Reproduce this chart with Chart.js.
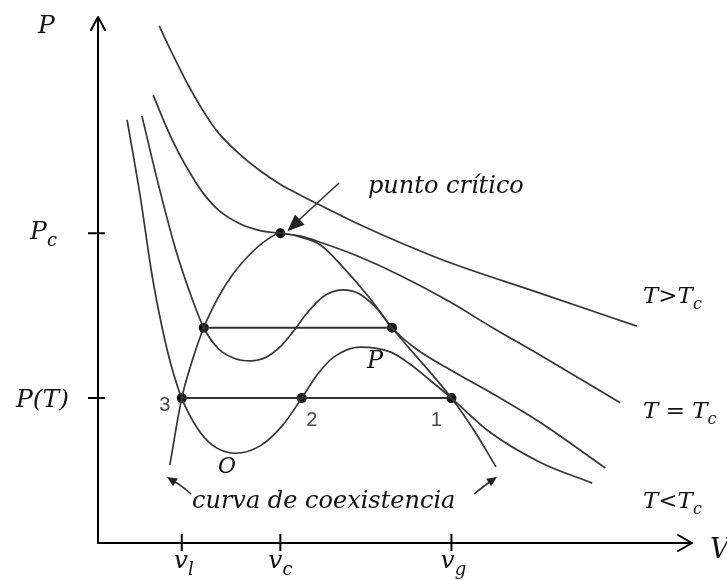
<!DOCTYPE html>
<html>
<head>
<meta charset="utf-8">
<script src="https://cdn.jsdelivr.net/npm/chart.js@4/dist/chart.umd.min.js"></script>
<style>
  html, body { margin: 0; padding: 0; background: #fff; }
  canvas { display: block; }
</style>
</head>
<body>
<canvas id="pv-canvas" width="727" height="580"></canvas>
<script>
// van der Waals isotherms in the P-V plane (arbitrary units, 0..10 on both axes)

// critical point and the values marked on the axes
const vc = 3.07;
const Pc = 5.90;
const vl = 1.41;
const vg = 5.95;
const PT = 2.76;
const v2 = 3.43;

// upper tie line (second subcritical isotherm)
const tieV = [1.78, 4.95];
const tieP = 4.10;

// T > Tc
const hotV = [1.03, 1.26, 1.50, 1.75, 2.00, 2.36, 2.73, 3.06, 3.40, 3.91, 4.41, 5.76, 7.44, 9.07];
const hotP = [9.85, 9.30, 8.76, 8.27, 7.85, 7.43, 7.09, 6.84, 6.63, 6.34, 6.06, 5.41, 4.76, 4.13];

// T = Tc
const critV = [0.93, 1.13, 1.35, 1.57, 1.78, 2.05, 2.39, 2.73, vc, 3.40, 3.79, 4.36, 5.08, 5.93, 6.60, 7.44, 8.79];
const critP = [8.53, 7.98, 7.45, 7.01, 6.65, 6.32, 6.08, 5.95, Pc, 5.85, 5.71, 5.47, 5.10, 4.59, 4.13, 3.58, 2.67];

// T < Tc, upper loop
const warmV = [0.74, 1.01, 1.30, 1.55, tieV[0], 2.02, 2.29, 2.56, 2.83, 3.06, 3.28, 3.52, 3.79, 4.11, 4.41, 4.70, tieV[1], 5.34, 5.93, 6.77, 7.44, 8.54];
const warmP = [8.13, 6.86, 5.62, 4.76, tieP, 3.71, 3.52, 3.47, 3.54, 3.73, 4.02, 4.38, 4.69, 4.82, 4.74, 4.46, tieP, 3.71, 3.30, 2.76, 2.30, 1.43];

// T < Tc, lower loop (points 3, 2, 1 at P(T))
const coldV = [0.49, 0.71, 0.91, 1.08, 1.23, vl, 1.67, 1.92, 2.31, 2.73, 3.10, v2, 3.70, 3.97, 4.41, 4.92, 5.25, 5.59, vg, 6.60, 7.44, 8.32];
const coldP = [8.06, 6.61, 5.10, 4.10, 3.39, PT, 2.19, 1.87, 1.71, 1.85, 2.23, PT, 3.22, 3.54, 3.73, 3.64, 3.41, 3.10, PT, 2.11, 1.54, 1.14];

// coexistence curve
const domeV = [1.21, vl, 1.58, tieV[0], 2.02, 2.27, 2.56, 2.81, vc, 3.40, 3.74, 4.12, 4.55, tieV[1], vg, 6.35, 6.70];
const domeP = [1.49, PT, 3.45, tieP, 4.67, 5.12, 5.50, 5.75, Pc, 5.83, 5.68, 5.26, 4.70, tieP, PT, 2.11, 1.45];

const pts = (vs, ps) => vs.map((v, i) => ({ x: v, y: Array.isArray(ps) ? ps[i] : ps }));

const curveStyle = {
  showLine: true,
  pointRadius: 0,
  borderColor: '#363636',
  borderWidth: 1.7,
  cubicInterpolationMode: 'monotone',
  fill: false,
};

const tieStyle = {
  ...curveStyle,
  cubicInterpolationMode: 'default',
  tension: 0,
  borderWidth: 2,
  borderColor: '#303030',
};

const serif = '"DejaVu Serif"';

function mathLabel(ctx, main, sub, x, y, size, align) {
  const subSize = Math.round(size * 0.7);
  ctx.font = `italic ${size}px ${serif}`;
  const w1 = ctx.measureText(main).width;
  ctx.font = `italic ${subSize}px ${serif}`;
  const w2 = sub ? ctx.measureText(sub).width : 0;
  let left = x;
  if (align === 'center') left = x - (w1 + w2) / 2;
  if (align === 'right') left = x - (w1 + w2);
  ctx.textAlign = 'left';
  ctx.textBaseline = 'alphabetic';
  ctx.font = `italic ${size}px ${serif}`;
  ctx.fillText(main, left, y);
  if (sub) {
    ctx.font = `italic ${subSize}px ${serif}`;
    ctx.fillText(sub, left + w1, y + size * 0.28);
  }
}

function arrowHead(ctx, tx, ty, fx, fy, len, half) {
  const a = Math.atan2(ty - fy, tx - fx);
  ctx.beginPath();
  ctx.moveTo(tx, ty);
  ctx.lineTo(tx - len * Math.cos(a) + half * Math.sin(a), ty - len * Math.sin(a) - half * Math.cos(a));
  ctx.lineTo(tx - len * Math.cos(a) - half * Math.sin(a), ty - len * Math.sin(a) + half * Math.cos(a));
  ctx.closePath();
  ctx.fill();
}

const axesPlugin = {
  id: 'pvAxes',
  afterDatasetsDraw(chart) {
    const { ctx, scales: { x, y } } = chart;
    const x0 = x.getPixelForValue(0);
    const y0 = y.getPixelForValue(0);
    const xEnd = x.getPixelForValue(10);
    const yEnd = y.getPixelForValue(10.02);

    ctx.save();
    ctx.strokeStyle = '#000';
    ctx.fillStyle = '#000';
    ctx.lineWidth = 2;
    ctx.lineCap = 'round';
    ctx.lineJoin = 'round';

    // axes with open arrow heads
    ctx.beginPath();
    ctx.moveTo(x0, y0);
    ctx.lineTo(x0, yEnd);
    ctx.moveTo(x0 - 7, yEnd + 13);
    ctx.lineTo(x0, yEnd);
    ctx.lineTo(x0 + 7, yEnd + 13);
    ctx.moveTo(x0, y0);
    ctx.lineTo(xEnd, y0);
    ctx.moveTo(xEnd - 14, y0 - 8);
    ctx.lineTo(xEnd, y0);
    ctx.lineTo(xEnd - 14, y0 + 8);
    ctx.stroke();

    // tick marks
    ctx.lineCap = 'butt';
    ctx.beginPath();
    [vl, vc, vg].forEach(v => {
      const px = x.getPixelForValue(v);
      ctx.moveTo(px, y0 - 9);
      ctx.lineTo(px, y0 + 8);
    });
    [Pc, PT].forEach(p => {
      const py = y.getPixelForValue(p);
      ctx.moveTo(x0 - 10, py);
      ctx.lineTo(x0 + 7, py);
    });
    ctx.stroke();

    // axis titles and tick labels
    ctx.fillStyle = '#111';
    mathLabel(ctx, 'P', '', 38, 33, 25, 'left');
    mathLabel(ctx, 'V', '', 710, 558, 27, 'left');
    mathLabel(ctx, 'P', 'c', 57, y.getPixelForValue(Pc) + 6, 25, 'right');
    mathLabel(ctx, 'P(T)', '', 69, y.getPixelForValue(PT) + 9, 25, 'right');
    mathLabel(ctx, 'v', 'l', x.getPixelForValue(vl) + 2, 568, 25, 'center');
    mathLabel(ctx, 'v', 'c', x.getPixelForValue(vc), 568, 25, 'center');
    mathLabel(ctx, 'v', 'g', x.getPixelForValue(vg) + 2, 568, 25, 'center');

    // isotherm labels
    mathLabel(ctx, 'T>T', 'c', 643, 303, 23, 'left');
    mathLabel(ctx, 'T = T', 'c', 643, 418, 23, 'left');
    mathLabel(ctx, 'T<T', 'c', 643, 508, 23, 'left');

    // point labels
    ctx.font = `20px "Liberation Sans"`;
    ctx.fillStyle = '#4a4a4a';
    ctx.textAlign = 'center';
    ctx.textBaseline = 'middle';
    ctx.fillText('3', x.getPixelForValue(vl) - 17, y.getPixelForValue(PT) + 7);
    ctx.fillText('2', x.getPixelForValue(v2) + 10, y.getPixelForValue(PT) + 22);
    ctx.fillText('1', x.getPixelForValue(vg) - 15, y.getPixelForValue(PT) + 22);
    ctx.fillStyle = '#111';
    ctx.font = `italic 22px ${serif}`;
    ctx.fillText('O', 227, 467);
    ctx.font = `italic 24px ${serif}`;
    ctx.fillText('P', 375, 362);

    // annotations
    ctx.textAlign = 'left';
    ctx.textBaseline = 'alphabetic';
    ctx.font = `italic 24px ${serif}`;
    ctx.fillText('punto crítico', 368, 193);
    ctx.fillText('curva de coexistencia', 192, 508);

    ctx.strokeStyle = '#333';
    ctx.fillStyle = '#222';
    ctx.lineWidth = 1.6;
    const cx = x.getPixelForValue(vc) + 7;
    const cy = y.getPixelForValue(Pc) - 2;
    ctx.beginPath();
    ctx.moveTo(339, 183);
    ctx.lineTo(cx + 8, cy - 8);
    ctx.stroke();
    arrowHead(ctx, cx, cy, 339, 183, 17, 7);

    ctx.beginPath();
    ctx.moveTo(191, 494);
    ctx.quadraticCurveTo(180, 484, 173, 481);
    ctx.stroke();
    arrowHead(ctx, 167, 477, 178, 484, 10, 4.5);

    ctx.beginPath();
    ctx.moveTo(474, 494);
    ctx.quadraticCurveTo(484, 486, 491, 481);
    ctx.stroke();
    arrowHead(ctx, 497, 477, 485, 485, 10, 4.5);

    ctx.restore();
  },
};

new Chart(document.getElementById('pv-canvas'), {
  type: 'scatter',
  data: {
    datasets: [
      { ...curveStyle, data: pts(hotV, hotP) },
      { ...curveStyle, data: pts(critV, critP) },
      { ...curveStyle, data: pts(warmV, warmP) },
      { ...curveStyle, data: pts(coldV, coldP) },
      { ...curveStyle, data: pts(domeV, domeP) },
      { ...tieStyle, data: pts(tieV, tieP) },
      { ...tieStyle, data: pts([vl, vg], PT) },
      {
        showLine: false,
        pointRadius: 5,
        pointBackgroundColor: '#111',
        pointBorderWidth: 0,
        data: [
          { x: vc, y: Pc },
          { x: tieV[0], y: tieP },
          { x: tieV[1], y: tieP },
          { x: vl, y: PT },
          { x: v2, y: PT },
          { x: vg, y: PT },
        ],
      },
    ],
  },
  options: {
    responsive: false,
    animation: false,
    devicePixelRatio: 1,
    layout: { padding: { left: 98, right: 35, top: 18, bottom: 37 } },
    scales: {
      x: { type: 'linear', min: 0, max: 10, display: false },
      y: { type: 'linear', min: 0, max: 10, display: false },
    },
    plugins: {
      legend: { display: false },
      tooltip: { enabled: false },
    },
  },
  plugins: [axesPlugin],
});
</script>
</body>
</html>
